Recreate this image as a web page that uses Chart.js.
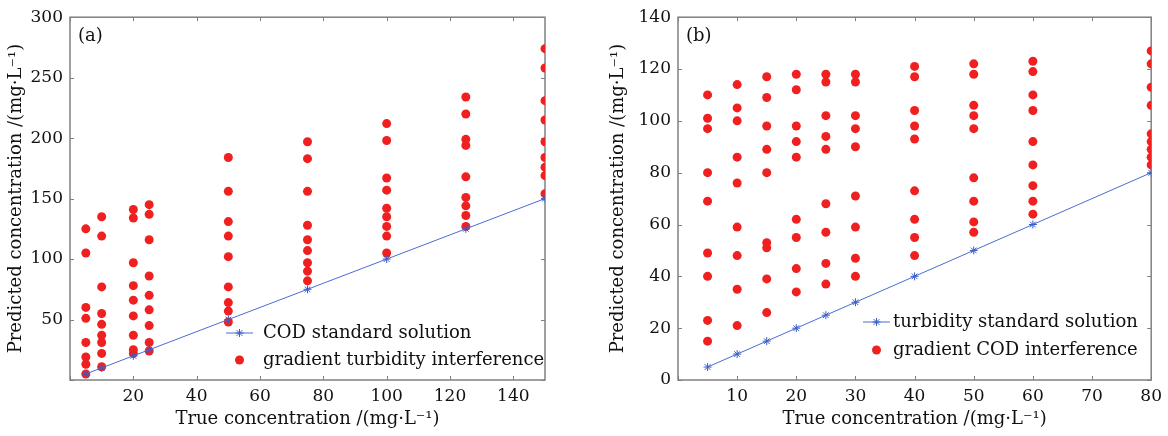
<!DOCTYPE html>
<html>
<head>
<meta charset="utf-8">
<script src="https://cdn.jsdelivr.net/npm/chart.js@4.4.0/dist/chart.umd.min.js"></script>
<style>
  body { margin: 0; background: #fff; width: 1168px; height: 436px; overflow: hidden; position: relative; }
  canvas { position: absolute; top: 0; }
  #chartA { left: 0; }
  #chartB { left: 585px; }
</style>
</head>
<body>
<canvas id="chartA" width="575" height="436"></canvas>
<canvas id="chartB" width="583" height="436"></canvas>
<script>
// (a) COD standard + gradient turbidity interference
const codTrue = [5, 10, 20, 25, 50, 75, 100, 125, 150];
const codStandard = [5, 10, 20, 25, 50, 75, 100, 125, 150];
const turbInterference = [
  [125, 105, 60, 51, 31, 19, 13, 5],
  [135, 119, 77, 55, 46, 37, 31, 22, 11],
  [141, 134, 97, 78, 66, 53, 37, 25, 22],
  [145, 137, 116, 86, 70, 58, 45, 31, 24],
  [184, 156, 131, 119, 102, 77, 64, 57, 48],
  [197, 183, 156, 128, 116, 107, 97, 90, 82],
  [212, 198, 167, 157, 142, 135, 127, 119, 105],
  [234, 220, 199, 194, 168, 151, 144, 136, 127],
  [274, 258, 231, 215, 197, 184, 176, 169, 154]
];

// (b) turbidity standard + gradient COD interference
const turbTrue = [5, 10, 15, 20, 25, 30, 40, 50, 60, 80];
const turbStandard = [5, 10, 15, 20, 25, 30, 40, 50, 60, 80];
const codInterference = [
  [110, 101, 97, 80, 69, 49, 40, 23, 15],
  [114, 105, 100, 86, 76, 59, 48, 35, 21],
  [117, 109, 98, 89, 80, 53, 51, 39, 26],
  [118, 112, 98, 92, 86, 62, 55, 43, 34],
  [118, 115, 102, 94, 89, 68, 57, 45, 37],
  [118, 115, 102, 97, 90, 71, 59, 47, 40],
  [121, 117, 104, 98, 93, 73, 62, 55, 48],
  [122, 118, 106, 102, 97, 78, 69, 61, 57],
  [123, 119, 110, 104, 92, 83, 75, 69, 64],
  [127, 122, 113, 106, 95, 92, 89, 86, 83]
];

const xTitle = 'True concentration /(mg·L⁻¹)';
const yTitle = 'Predicted concentration /(mg·L⁻¹)';

Chart.defaults.font.family = "'DejaVu Serif', serif";
Chart.defaults.color = '#111';

//BUILD POINTS FROM THE ARRAYS
function toPoints(xs, ys) {
  return xs.map((x, i) => ({ x: x, y: ys[i] }));
}
function groupPoints(xs, groups) {
  let pts = [];
  xs.forEach((x, i) => groups[i].forEach(v => pts.push({ x: x, y: v })));
  return pts;
}

//FRAME, INWARD TICKS, PANEL LABEL, LEGEND
const framePlugin = {
  id: 'frame',
  beforeDatasetsDraw(chart) {
    const { ctx, chartArea: a, scales } = chart;
    ctx.save();
    ctx.strokeStyle = '#808080';
    ctx.lineWidth = 1;
    scales.x.ticks.forEach((t, i) => {
      const px = Math.round(scales.x.getPixelForTick(i)) + 0.5;
      ctx.beginPath();
      ctx.moveTo(px, a.bottom); ctx.lineTo(px, a.bottom - 4);
      ctx.moveTo(px, a.top); ctx.lineTo(px, a.top + 4);
      ctx.stroke();
    });
    scales.y.ticks.forEach((t, i) => {
      const py = Math.round(scales.y.getPixelForTick(i)) + 0.5;
      ctx.beginPath();
      ctx.moveTo(a.left, py); ctx.lineTo(a.left + 4, py);
      ctx.moveTo(a.right, py); ctx.lineTo(a.right - 4, py);
      ctx.stroke();
    });
    ctx.lineWidth = 1.5;
    ctx.strokeRect(a.left, a.top, a.right - a.left, a.bottom - a.top);
    ctx.restore();
  },
  afterDraw(chart, args, opts) {
    const { ctx, chartArea: a } = chart;
    ctx.save();
    ctx.fillStyle = '#111';
    ctx.font = "18px 'DejaVu Serif'";
    ctx.textBaseline = 'middle';
    ctx.fillText(opts.panel, a.left + 8, a.top + 19);

    chart.data.datasets.forEach((ds, i) => {
      const y = opts.legendY + i * opts.rowGap;
      const mid = opts.legendX + opts.lineLen / 2;
      if (ds.showLine) {
        ctx.strokeStyle = ds.borderColor;
        ctx.lineWidth = ds.borderWidth;
        ctx.beginPath();
        ctx.moveTo(opts.legendX, y); ctx.lineTo(opts.legendX + opts.lineLen, y);
        ctx.stroke();
      }
      ctx.strokeStyle = ds.pointBorderColor;
      ctx.fillStyle = ds.pointBackgroundColor;
      Chart.helpers.drawPoint(ctx, {
        pointStyle: ds.pointStyle, radius: ds.pointRadius, borderWidth: ds.pointBorderWidth, rotation: 0
      }, mid, y);
      ctx.fillStyle = '#111';
      ctx.fillText(ds.label, opts.legendX + opts.lineLen + opts.textGap, y);
    });
    ctx.restore();
  }
};

function makeChart(el, cfg) {
  const lineSet = {
    label: cfg.lineLabel,
    data: toPoints(cfg.trueX, cfg.standard),
    showLine: true,
    borderColor: '#4a6cd4',
    borderWidth: 1,
    pointStyle: 'star',
    pointRadius: 4,
    pointBorderWidth: 1,
    pointBorderColor: '#3a5cc8',
    pointBackgroundColor: '#3a5cc8'
  };
  const dotSet = {
    label: cfg.dotLabel,
    data: groupPoints(cfg.trueX, cfg.groups),
    showLine: false,
    pointStyle: 'circle',
    pointRadius: 4.5,
    pointBorderWidth: 0,
    pointBorderColor: '#f02020',
    pointBackgroundColor: '#f02020'
  };

  return new Chart(document.getElementById(el), {
    type: 'scatter',
    data: { datasets: [lineSet, dotSet] },
    options: {
      responsive: false,
      animation: false,
      layout: { padding: { left: cfg.padLeft, right: cfg.padRight, top: 14, bottom: 0 } },
      plugins: {
        legend: { display: false },
        tooltip: { enabled: false },
        frame: cfg.frame
      },
      scales: {
        x: {
          type: 'linear',
          min: 0, max: cfg.xMax,
          grid: { display: false, drawTicks: false },
          border: { display: false },
          ticks: {
            stepSize: cfg.xStep, includeBounds: false, padding: 6,
            font: { size: 17 },
            callback: v => v === 0 ? '' : v
          },
          title: { display: true, text: xTitle, font: { size: 18 }, padding: { top: 0, bottom: 6 } },
          afterFit: s => { s.height = 56; }
        },
        y: {
          type: 'linear',
          min: 0, max: cfg.yMax,
          grid: { display: false, drawTicks: false },
          border: { display: false },
          ticks: {
            stepSize: cfg.yStep, includeBounds: false, padding: 7,
            font: { size: 17 },
            callback: v => (v === 0 && cfg.hideZeroY) ? '' : v
          },
          title: { display: true, text: yTitle, font: { size: 18 }, padding: { top: 6, bottom: 0 } },
          afterFit: s => { s.width = cfg.yWidth; }
        }
      }
    },
    plugins: [framePlugin]
  });
}

document.addEventListener('DOMContentLoaded', () => {
  makeChart('chartA', {
    trueX: codTrue, standard: codStandard, groups: turbInterference,
    lineLabel: 'COD standard solution', dotLabel: 'gradient turbidity interference',
    xMax: 150, xStep: 20, yMax: 300, yStep: 50, hideZeroY: true,
    padLeft: 0, padRight: 30, yWidth: 70,
    frame: { panel: '(a)', legendX: 226, legendY: 333, rowGap: 27, lineLen: 27, textGap: 10 }
  });
  makeChart('chartB', {
    trueX: turbTrue, standard: turbStandard, groups: codInterference,
    lineLabel: 'turbidity standard solution', dotLabel: 'gradient COD interference',
    xMax: 80, xStep: 10, yMax: 140, yStep: 20, hideZeroY: false,
    padLeft: 17, padRight: 16, yWidth: 76,
    frame: { panel: '(b)', legendX: 278, legendY: 322, rowGap: 28, lineLen: 27, textGap: 3 }
  });
});
</script>
</body>
</html>
